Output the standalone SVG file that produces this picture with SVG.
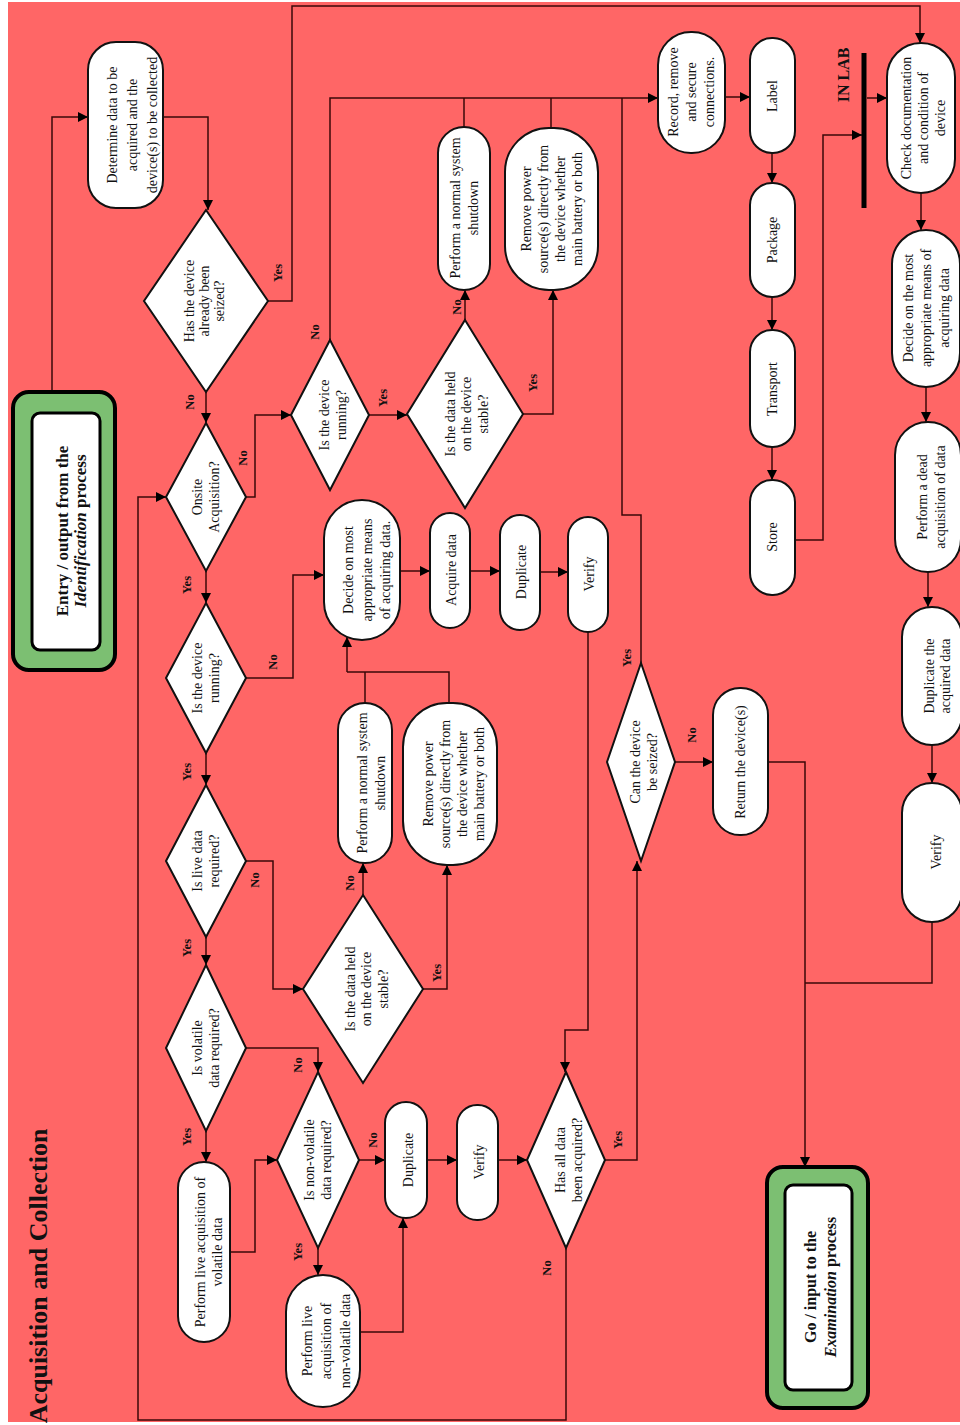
<svg xmlns="http://www.w3.org/2000/svg" width="960" height="1425" viewBox="0 0 960 1425">
<defs>
<marker id="ah" viewBox="0 0 10 10" refX="10" refY="5" markerWidth="11" markerHeight="10" markerUnits="userSpaceOnUse" orient="auto"><path d="M0,0 L10,5 L0,10 z" fill="#000"/></marker>
<style>
.n{fill:#fff;stroke:#111;stroke-width:2}
.c{fill:none;stroke:#3b0808;stroke-width:1.5}
.a{marker-end:url(#ah)}
.t{font-family:"Liberation Serif","Times New Roman",serif;font-size:14px;text-anchor:middle;fill:#111}
.d{font-size:14px}
.l{font-weight:bold;font-size:12.5px}
.g{fill:#7cbf72;stroke:#000;stroke-width:4}
.w{fill:#fff;stroke:#000;stroke-width:3}
.h{font-weight:bold;font-size:17px}
</style>
</defs>
<rect x="0" y="0" width="960" height="1425" fill="#fff"/>
<rect x="8" y="2" width="952" height="1420" fill="#ff6666"/>
<text class="t" style="font-weight:bold;font-size:26px" transform="rotate(-90 47 1276)" x="47" y="1276">Acquisition and Collection</text>

<g id="connectors">
<path class="c a" d="M52,392 V117 H88"/>
<path class="c a" d="M163,117 H208 V210"/>
<path class="c a" d="M268,301 H292 V6 H920 V43"/>
<path class="c a" d="M206,392 V423"/>
<path class="c a" d="M566,1248 V1420 H138 V497 H166"/>
<path class="c a" d="M246,497 H255 V415 H291"/>
<path class="c a" d="M206,571 V603"/>
<path class="c a" d="M246,678 H293 V575 H324"/>
<path class="c a" d="M206,753 V785"/>
<path class="c a" d="M246,861 H273 V989 H303"/>
<path class="c a" d="M206,937 V965"/>
<path class="c a" d="M246,1048 H318 V1072"/>
<path class="c a" d="M206,1131 V1162"/>
<path class="c a" d="M230,1252 H255 V1160 H277"/>
<path class="c a" d="M359,1160 H385"/>
<path class="c a" d="M318,1248 V1275"/>
<path class="c a" d="M360,1332 H403 V1218"/>
<path class="c a" d="M427,1160 H457"/>
<path class="c a" d="M498,1160 H527"/>
<path class="c a" d="M605,1160 H637 V861"/>
<path class="c a" d="M675,762 H713"/>
<path class="c a" d="M768,762 H805 V1167"/>
<path class="c" d="M932,922 V983 H805"/>
<path class="c" d="M641,663 V515 H622 V98"/>
<path class="c a" d="M330,340 V98 H658"/>
<path class="c" d="M464,127 V98 M551,128 V98"/>
<path class="c a" d="M725,97 H750"/>
<path class="c a" d="M772,153 V183"/>
<path class="c a" d="M772,297 V330"/>
<path class="c a" d="M772,447 V480"/>
<path class="c a" d="M795,540 H823 V135 H862"/>
<path class="c a" d="M867,98 H887"/>
<path class="c a" d="M921,193 V230"/>
<path class="c a" d="M926,387 V422"/>
<path class="c a" d="M928,572 V607"/>
<path class="c a" d="M932,745 V783"/>
<path class="c a" d="M369,415 H407"/>
<path class="c a" d="M465,320 V290"/>
<path class="c a" d="M523,414 H553 V290"/>
<path class="c a" d="M400,571 H430"/>
<path class="c a" d="M470,571 H500"/>
<path class="c a" d="M540,572 H568"/>
<path class="c a" d="M588,632 V1030 H565 V1072"/>
<path class="c a" d="M363,895 V863"/>
<path class="c a" d="M423,989 H447 V865"/>
<path class="c" d="M365,703 V672 M449,703 V672 H347"/>
<path class="c a" d="M347,672 V637"/>
<line x1="864" y1="53" x2="864" y2="208" stroke="#000" stroke-width="5"/>
</g>

<g id="labels">
<text class="t l" transform="rotate(-90 282 273)" x="282" y="273">Yes</text>
<text class="t l" transform="rotate(-90 194 402)" x="194" y="402">No</text>
<text class="t l" transform="rotate(-90 247 458)" x="247" y="458">No</text>
<text class="t l" transform="rotate(-90 191 585)" x="191" y="585">Yes</text>
<text class="t l" transform="rotate(-90 277 662)" x="277" y="662">No</text>
<text class="t l" transform="rotate(-90 191 772)" x="191" y="772">Yes</text>
<text class="t l" transform="rotate(-90 259 880)" x="259" y="880">No</text>
<text class="t l" transform="rotate(-90 191 948)" x="191" y="948">Yes</text>
<text class="t l" transform="rotate(-90 302 1065)" x="302" y="1065">No</text>
<text class="t l" transform="rotate(-90 191 1137)" x="191" y="1137">Yes</text>
<text class="t l" transform="rotate(-90 377 1140)" x="377" y="1140">No</text>
<text class="t l" transform="rotate(-90 302 1252)" x="302" y="1252">Yes</text>
<text class="t l" transform="rotate(-90 551 1268)" x="551" y="1268">No</text>
<text class="t l" transform="rotate(-90 622 1140)" x="622" y="1140">Yes</text>
<text class="t l" transform="rotate(-90 631 658)" x="631" y="658">Yes</text>
<text class="t l" transform="rotate(-90 696 735)" x="696" y="735">No</text>
<text class="t l" transform="rotate(-90 387 398)" x="387" y="398">Yes</text>
<text class="t l" transform="rotate(-90 319 332)" x="319" y="332">No</text>
<text class="t l" transform="rotate(-90 461 307)" x="461" y="307">No</text>
<text class="t l" transform="rotate(-90 537 383)" x="537" y="383">Yes</text>
<text class="t l" transform="rotate(-90 354 883)" x="354" y="883">No</text>
<text class="t l" transform="rotate(-90 441 973)" x="441" y="973">Yes</text>
<text class="t" style="font-weight:bold;font-size:16px" transform="rotate(-90 849 75)" x="849" y="75">IN LAB</text>
</g>

<g id="entry"><rect class="g" x="13" y="392" width="102" height="278" rx="16"/><rect class="w" x="32" y="413" width="68" height="237" rx="8"/>
<text class="t h" transform="rotate(-90 68 531)" x="68" y="531"><tspan x="68">Entry / output from the</tspan><tspan x="68" dy="18"><tspan font-style="italic">Identification</tspan> process</tspan></text></g>

<g id="determine"><rect class="n" x="88" y="42" width="75" height="166" rx="28"/>
<text class="t" transform="rotate(-90 117 125)" x="117" y="125"><tspan x="117">Determine data to be</tspan><tspan x="117" dy="20">acquired and the</tspan><tspan x="117" dy="20">device(s) to be collected</tspan></text></g>

<g id="seized"><polygon class="n" points="206,210 268,301 206,392 144,301"/>
<text class="t d" transform="rotate(-90 194 301)" x="194" y="301"><tspan x="194">Has the device</tspan><tspan x="194" dy="15">already been</tspan><tspan x="194" dy="15">seized?</tspan></text></g>

<g id="onsite"><polygon class="n" points="206,423 246,497 206,571 166,497"/>
<text class="t d" transform="rotate(-90 202 497)" x="202" y="497"><tspan x="202">Onsite</tspan><tspan x="202" dy="17">Acquisition?</tspan></text></g>

<g id="running1"><polygon class="n" points="330,340 369,415 330,490 291,415"/>
<text class="t d" transform="rotate(-90 329 415)" x="329" y="415"><tspan x="329">Is the device</tspan><tspan x="329" dy="17">running?</tspan></text></g>

<g id="stable1"><polygon class="n" points="465,320 523,414 465,508 407,414"/>
<text class="t d" transform="rotate(-90 454.5 414)" x="454.5" y="414"><tspan x="454.5">Is the data held</tspan><tspan x="454.5" dy="16.5">on the device</tspan><tspan x="454.5" dy="16.5">stable?</tspan></text></g>

<g id="shutdown1"><rect class="n" x="438" y="127" width="52" height="163" rx="26"/>
<text class="t" transform="rotate(-90 460 208)" x="460" y="208"><tspan x="460">Perform a normal system</tspan><tspan x="460" dy="18">shutdown</tspan></text></g>

<g id="power1"><rect class="n" x="505" y="128" width="93" height="162" rx="44"/>
<text class="t" transform="rotate(-90 531 209)" x="531" y="209"><tspan x="531">Remove power</tspan><tspan x="531" dy="17">source(s) directly from</tspan><tspan x="531" dy="17">the device whether</tspan><tspan x="531" dy="17">main battery or both</tspan></text></g>

<g id="record"><rect class="n" x="658" y="32" width="67" height="121" rx="33"/>
<text class="t" transform="rotate(-90 678 92)" x="678" y="92"><tspan x="678">Record, remove</tspan><tspan x="678" dy="18">and secure</tspan><tspan x="678" dy="18">connections.</tspan></text></g>

<g id="label"><rect class="n" x="750" y="38" width="45" height="115" rx="22"/><text class="t" transform="rotate(-90 777 96)" x="777" y="96">Label</text></g>
<g id="package"><rect class="n" x="750" y="183" width="45" height="114" rx="22"/><text class="t" transform="rotate(-90 777 240)" x="777" y="240">Package</text></g>
<g id="transport"><rect class="n" x="750" y="330" width="45" height="117" rx="22"/><text class="t" transform="rotate(-90 777 389)" x="777" y="389">Transport</text></g>
<g id="store"><rect class="n" x="750" y="480" width="45" height="115" rx="22"/><text class="t" transform="rotate(-90 777 537)" x="777" y="537">Store</text></g>

<g id="check"><rect class="n" x="887" y="43" width="68" height="150" rx="34"/>
<text class="t" transform="rotate(-90 911 118)" x="911" y="118"><tspan x="911">Check documentation</tspan><tspan x="911" dy="17">and condition of</tspan><tspan x="911" dy="17">device</tspan></text></g>

<g id="decidelab"><rect class="n" x="892" y="230" width="68" height="157" rx="34"/>
<text class="t" transform="rotate(-90 913 308)" x="913" y="308"><tspan x="913">Decide on the most</tspan><tspan x="913" dy="18">appropriate means of</tspan><tspan x="913" dy="18">acquiring data</tspan></text></g>

<g id="dead"><rect class="n" x="895" y="422" width="66" height="150" rx="33"/>
<text class="t" transform="rotate(-90 927 497)" x="927" y="497"><tspan x="927">Perform a dead</tspan><tspan x="927" dy="18">acquisition of data</tspan></text></g>

<g id="duplab"><rect class="n" x="902" y="607" width="60" height="138" rx="30"/>
<text class="t" transform="rotate(-90 934 676)" x="934" y="676"><tspan x="934">Duplicate the</tspan><tspan x="934" dy="16">acquired data</tspan></text></g>

<g id="verifylab"><rect class="n" x="902" y="783" width="60" height="139" rx="30"/>
<text class="t" transform="rotate(-90 941 852)" x="941" y="852">Verify</text></g>

<g id="decide"><rect class="n" x="324" y="500" width="76" height="140" rx="38"/>
<text class="t" transform="rotate(-90 353 570)" x="353" y="570"><tspan x="353">Decide on most</tspan><tspan x="353" dy="18.5">appropriate means</tspan><tspan x="353" dy="18.5">of acquiring data.</tspan></text></g>

<g id="acquire"><rect class="n" x="430" y="513" width="40" height="115" rx="20"/><text class="t" transform="rotate(-90 456 570)" x="456" y="570">Acquire data</text></g>
<g id="dup1"><rect class="n" x="500" y="515" width="40" height="115" rx="20"/><text class="t" transform="rotate(-90 526 572)" x="526" y="572">Duplicate</text></g>
<g id="verify1"><rect class="n" x="568" y="517" width="40" height="115" rx="20"/><text class="t" transform="rotate(-90 594 574)" x="594" y="574">Verify</text></g>

<g id="running2"><polygon class="n" points="206,603 246,678 206,753 166,678"/>
<text class="t d" transform="rotate(-90 202 678)" x="202" y="678"><tspan x="202">Is the device</tspan><tspan x="202" dy="17">running?</tspan></text></g>

<g id="live"><polygon class="n" points="206,785 246,861 206,937 166,861"/>
<text class="t d" transform="rotate(-90 202 861)" x="202" y="861"><tspan x="202">Is live data</tspan><tspan x="202" dy="17">required?</tspan></text></g>

<g id="volatile"><polygon class="n" points="206,965 246,1048 206,1131 166,1048"/>
<text class="t d" transform="rotate(-90 202 1048)" x="202" y="1048"><tspan x="202">Is volatile</tspan><tspan x="202" dy="17">data required?</tspan></text></g>

<g id="stable2"><polygon class="n" points="363,895 423,989 363,1083 303,989"/>
<text class="t d" transform="rotate(-90 354.5 989)" x="354.5" y="989"><tspan x="354.5">Is the data held</tspan><tspan x="354.5" dy="16.5">on the device</tspan><tspan x="354.5" dy="16.5">stable?</tspan></text></g>

<g id="shutdown2"><rect class="n" x="338" y="703" width="54" height="160" rx="27"/>
<text class="t" transform="rotate(-90 367 783)" x="367" y="783"><tspan x="367">Perform a normal system</tspan><tspan x="367" dy="18">shutdown</tspan></text></g>

<g id="power2"><rect class="n" x="403" y="703" width="94" height="162" rx="44"/>
<text class="t" transform="rotate(-90 433 784)" x="433" y="784"><tspan x="433">Remove power</tspan><tspan x="433" dy="17">source(s) directly from</tspan><tspan x="433" dy="17">the device whether</tspan><tspan x="433" dy="17">main battery or both</tspan></text></g>

<g id="canseize"><polygon class="n" points="641,663 675,762 641,861 607,762"/>
<text class="t d" transform="rotate(-90 639.5 762)" x="639.5" y="762"><tspan x="639.5">Can the device</tspan><tspan x="639.5" dy="17">be seized?</tspan></text></g>

<g id="return"><rect class="n" x="713" y="688" width="55" height="147" rx="27"/><text class="t" transform="rotate(-90 745 762)" x="745" y="762">Return the device(s)</text></g>

<g id="livevol"><rect class="n" x="178" y="1162" width="52" height="180" rx="26"/>
<text class="t" transform="rotate(-90 205 1252)" x="205" y="1252"><tspan x="205">Perform live acquisition of</tspan><tspan x="205" dy="17">volatile data</tspan></text></g>

<g id="nonvol"><polygon class="n" points="318,1072 359,1160 318,1248 277,1160"/>
<text class="t d" transform="rotate(-90 314 1160)" x="314" y="1160"><tspan x="314">Is non-volatile</tspan><tspan x="314" dy="17">data required?</tspan></text></g>

<g id="livenonvol"><rect class="n" x="286" y="1275" width="74" height="132" rx="37"/>
<text class="t" transform="rotate(-90 312 1341)" x="312" y="1341"><tspan x="312">Perform live</tspan><tspan x="312" dy="19">acquisition of</tspan><tspan x="312" dy="19">non-volatile data</tspan></text></g>

<g id="dup2"><rect class="n" x="385" y="1102" width="42" height="116" rx="21"/><text class="t" transform="rotate(-90 413 1160)" x="413" y="1160">Duplicate</text></g>
<g id="verify2"><rect class="n" x="457" y="1105" width="41" height="115" rx="20"/><text class="t" transform="rotate(-90 484 1162)" x="484" y="1162">Verify</text></g>

<g id="allacq"><polygon class="n" points="566,1072 605,1160 566,1248 527,1160"/>
<text class="t d" transform="rotate(-90 564.5 1160)" x="564.5" y="1160"><tspan x="564.5">Has all data</tspan><tspan x="564.5" dy="17">been acquired?</tspan></text></g>

<g id="go"><rect class="g" x="767" y="1167" width="101" height="241" rx="16"/><rect class="w" x="785" y="1185" width="67" height="205" rx="8"/>
<text class="t" style="font-weight:bold;font-size:16px" transform="rotate(-90 815.5 1287)" x="815.5" y="1287"><tspan x="815.5">Go / input to the</tspan><tspan x="815.5" dy="20"><tspan font-style="italic">Examination</tspan> process</tspan></text></g>
</svg>
